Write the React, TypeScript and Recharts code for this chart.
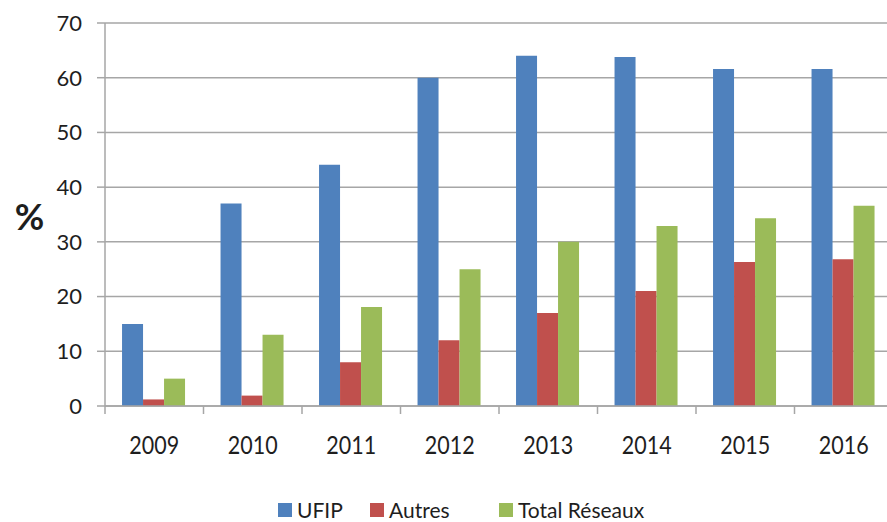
import React from 'react';
import { BarChart, Bar, XAxis, YAxis, CartesianGrid, Legend } from 'recharts';

const years = ['2009', '2010', '2011', '2012', '2013', '2014', '2015', '2016'];
const ufip = [15, 37, 44.1, 60, 64, 63.8, 61.6, 61.6];
const autres = [1.2, 1.9, 8, 12, 17, 21, 26.3, 26.8];
const totalReseaux = [5, 13, 18.1, 25, 30, 32.9, 34.3, 36.6];
const yTicks = [0, 10, 20, 30, 40, 50, 60, 70];
const seriesNames = ['UFIP', 'Autres', 'Total Réseaux'];

const COLORS = ['#4F81BD', '#C0504D', '#9BBB59'];
const FONT = 'Lato, "Noto Sans", sans-serif';
const TEXT = '#1e1e1e';
const GRID = '#a6a6a6';
const W = 887;
const H = 522;
const MARGIN = { top: 23, right: -6, bottom: 86, left: 0 };
const Y_AXIS_W = 105;
const PLOT_W = W - MARGIN.left - MARGIN.right - Y_AXIS_W;
const LEGEND_LEFT = [278, 370, 499];

const data = years.map((y, i) => ({
  year: y,
  ufip: ufip[i],
  autres: autres[i],
  total: totalReseaux[i],
}));

const XTick = (props: any) => {
  const { x, y, payload } = props;
  const half = PLOT_W / years.length / 2;
  return (
    <g>
      <line x1={x - half} y1={y} x2={x - half} y2={y + 8} stroke={GRID} strokeWidth={1.5} />
      <text
        transform={`translate(${x},${y + 48}) scale(1,1.2)`}
        textAnchor="middle"
        fill={TEXT}
        fontSize={21.5}
        fontFamily={FONT}
      >
        {payload.value}
      </text>
    </g>
  );
};

const PercentLabel = () => (
  <text x={29.5} y={230} textAnchor="middle" fontSize={36} fontWeight={700} fontFamily={FONT} fill={TEXT}>
    %
  </text>
);

const renderLegend = () => (
  <div style={{ position: 'relative', height: 25, fontFamily: FONT, fontSize: 21, color: TEXT }}>
    {seriesNames.map((n, i) => (
      <div
        key={n}
        style={{ position: 'absolute', left: LEGEND_LEFT[i], top: 0, display: 'flex', alignItems: 'center', whiteSpace: 'nowrap', lineHeight: '25px' }}
      >
        <span style={{ display: 'inline-block', width: 14, height: 14, background: COLORS[i], marginRight: 5 }} />
        <span>{n}</span>
      </div>
    ))}
  </div>
);

export default function App() {
  return (
    <div style={{ position: 'absolute', left: 0, top: 0, width: W, height: H, background: '#fff', overflow: 'hidden' }}>
      <BarChart
        width={W}
        height={H}
        data={data}
        margin={MARGIN}
        barCategoryGap="17.3%"
        barGap={0}
        style={{ fontFamily: FONT }}
      >
        <CartesianGrid horizontal vertical={false} stroke={GRID} strokeWidth={1.5} />
        <XAxis
          dataKey="year"
          height={30}
          tickLine={false}
          tickSize={0}
          tickMargin={0}
          axisLine={{ stroke: GRID, strokeWidth: 1.5 }}
          tick={<XTick />}
          interval={0}
        />
        <YAxis
          width={Y_AXIS_W}
          domain={[0, 70]}
          ticks={yTicks}
          interval={0}
          tickSize={8}
          tickMargin={15}
          axisLine={{ stroke: GRID, strokeWidth: 1.5 }}
          tickLine={{ stroke: GRID, strokeWidth: 1.5 }}
          tick={{ fill: TEXT, fontSize: 22, fontFamily: FONT }}
          label={<PercentLabel />}
        />
        <Legend
          layout="horizontal"
          verticalAlign="middle"
          align="center"
          content={renderLegend}
          wrapperStyle={{ top: 497, left: 0, width: W, height: 25 }}
        />
        <Bar dataKey="ufip" name={seriesNames[0]} fill={COLORS[0]} isAnimationActive={false} />
        <Bar dataKey="autres" name={seriesNames[1]} fill={COLORS[1]} isAnimationActive={false} />
        <Bar dataKey="total" name={seriesNames[2]} fill={COLORS[2]} isAnimationActive={false} />
      </BarChart>
    </div>
  );
}
